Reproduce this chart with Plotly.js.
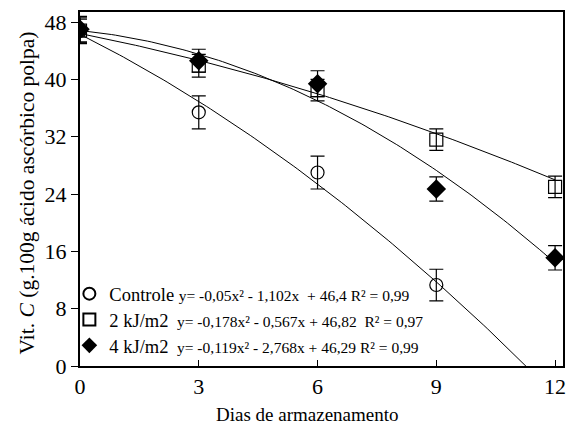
<!DOCTYPE html>
<html>
<head>
<meta charset="utf-8">
<script src="https://cdn.plot.ly/plotly-3.0.1.min.js"></script>
<style>html,body{margin:0;padding:0;background:#fff;}</style>
</head>
<body>
<div id="chart" style="width:568px;height:436px;"></div>
<script>
// Days of storage
const days = [0, 3, 6, 9, 12];
const daysControle = [0, 3, 6, 9];

// Observed means
const controleVals = [46.8, 35.4, 27.0, 11.3];
const kj2Vals = [46.8, 41.9, 38.5, 31.6, 25.0];
const kj4Vals = [47.0, 42.6, 39.4, 24.7, 15.1];

// Error bar half-widths
const controleErr = [1.8, 2.3, 2.3, 2.2];
const kj2Err = [1.6, 1.6, 1.5, 1.5, 1.5];
const kj4Err = [1.8, 1.6, 1.8, 1.7, 1.7];

// Trend curve coefficients as drawn [a, b, c] for y = a x^2 + b x + c
const controleCoef = [-0.119, -2.768, 46.29];
const kj2Coef = [-0.05, -1.102, 46.4];
const kj4Coef = [-0.178, -0.567, 46.82];

// Legend labels
const controleLabel = 'Controle <span style="font-size:15.5px">y= -0,05x² - 1,102x  + 46,4 R² = 0,99</span>';
const kj2Label = '2 kJ/m2 <span style="font-size:15.5px"> y= -0,178x² - 0,567x + 46,82  R² = 0,97</span>';
const kj4Label = '4 kJ/m2 <span style="font-size:15.5px"> y= -0,119x² - 2,768x + 46,29 R² = 0,99</span>';

const yTicks = [0, 8, 16, 24, 32, 40, 48];
const xTicks = [0, 3, 6, 9, 12];
const xTitle = 'Dias de armazenamento';
const yTitle = 'Vit. <i>C</i> (g.100g ácido ascórbico polpa)';

function curve(coef, x0, x1) {
  const xs = [], ys = [];
  const n = 120;
  for (let i = 0; i <= n; i++) {
    const x = x0 + (x1 - x0) * i / n;
    xs.push(x);
    ys.push(coef[0] * x * x + coef[1] * x + coef[2]);
  }
  return {x: xs, y: ys};
}

const cC = curve(controleCoef, 0, 12);
const c2 = curve(kj2Coef, 0, 12);
const c4 = curve(kj4Coef, 0, 12);

const lineStyle = {color: '#000', width: 1};
const errStyle = (arr) => ({type: 'data', array: arr, visible: true, color: '#000', thickness: 1.2, width: 7});

const traces = [
  {x: cC.x, y: cC.y, mode: 'lines', line: lineStyle, showlegend: false, hoverinfo: 'skip'},
  {x: c2.x, y: c2.y, mode: 'lines', line: lineStyle, showlegend: false, hoverinfo: 'skip'},
  {x: c4.x, y: c4.y, mode: 'lines', line: lineStyle, showlegend: false, hoverinfo: 'skip'},
  {x: daysControle, y: controleVals, mode: 'markers', name: controleLabel, legend: 'legend',
   marker: {symbol: 'circle-open', size: 13, color: '#000', line: {width: 1.2, color: '#000'}},
   error_y: errStyle(controleErr)},
  {x: days, y: kj2Vals, mode: 'markers', name: kj2Label, legend: 'legend2',
   marker: {symbol: 'square-open', size: 13, color: '#000', line: {width: 1.2, color: '#000'}},
   error_y: errStyle(kj2Err)},
  {x: days, y: kj4Vals, mode: 'markers', name: kj4Label, legend: 'legend3',
   marker: {symbol: 'diamond', size: 15, color: '#000'},
   error_y: errStyle(kj4Err)}
];

const FAM = 'Liberation Serif';
const f = (size) => ({family: FAM, size: size, color: '#000'});

const legendBase = (yc) => ({
  x: -0.022, y: yc, xanchor: 'left', yanchor: 'middle',
  bgcolor: 'rgba(0,0,0,0)', borderwidth: 0,
  font: f(18.5), itemwidth: 30, itemsizing: 'constant'
});

const layout = {
  width: 568, height: 436,
  margin: {l: 80, r: 5, t: 12, b: 70},
  paper_bgcolor: '#fff', plot_bgcolor: '#fff',
  font: f(18),
  showlegend: true,
  legend: legendBase(0.203),
  legend2: legendBase(0.130),
  legend3: legendBase(0.057),
  xaxis: {
    range: [0, 12.2], tickvals: xTicks, ticktext: xTicks.map(String),
    ticks: 'inside', ticklen: 6, tickcolor: '#000', tickwidth: 1,
    showline: true, linecolor: '#000', linewidth: 2, mirror: true,
    showgrid: false, zeroline: false,
    tickfont: f(22)
  },
  yaxis: {
    range: [0, 49.4], tickvals: yTicks, ticktext: yTicks.map(String),
    ticks: 'outside', ticklen: 7, tickcolor: '#000', tickwidth: 1,
    showline: true, linecolor: '#000', linewidth: 2, mirror: true,
    showgrid: false, zeroline: false,
    tickfont: f(22)
  },
  annotations: [
    {text: xTitle, xref: 'paper', yref: 'paper', x: 0.47, y: -0.137,
     xanchor: 'center', yanchor: 'middle', showarrow: false, font: f(19)},
    {text: yTitle, xref: 'paper', yref: 'paper', x: -0.11, y: 0.49, textangle: -90,
     xanchor: 'center', yanchor: 'middle', showarrow: false, font: f(21.5)}
  ]
};

Plotly.newPlot('chart', traces, layout, {displayModeBar: false, staticPlot: true});
</script>
</body>
</html>
